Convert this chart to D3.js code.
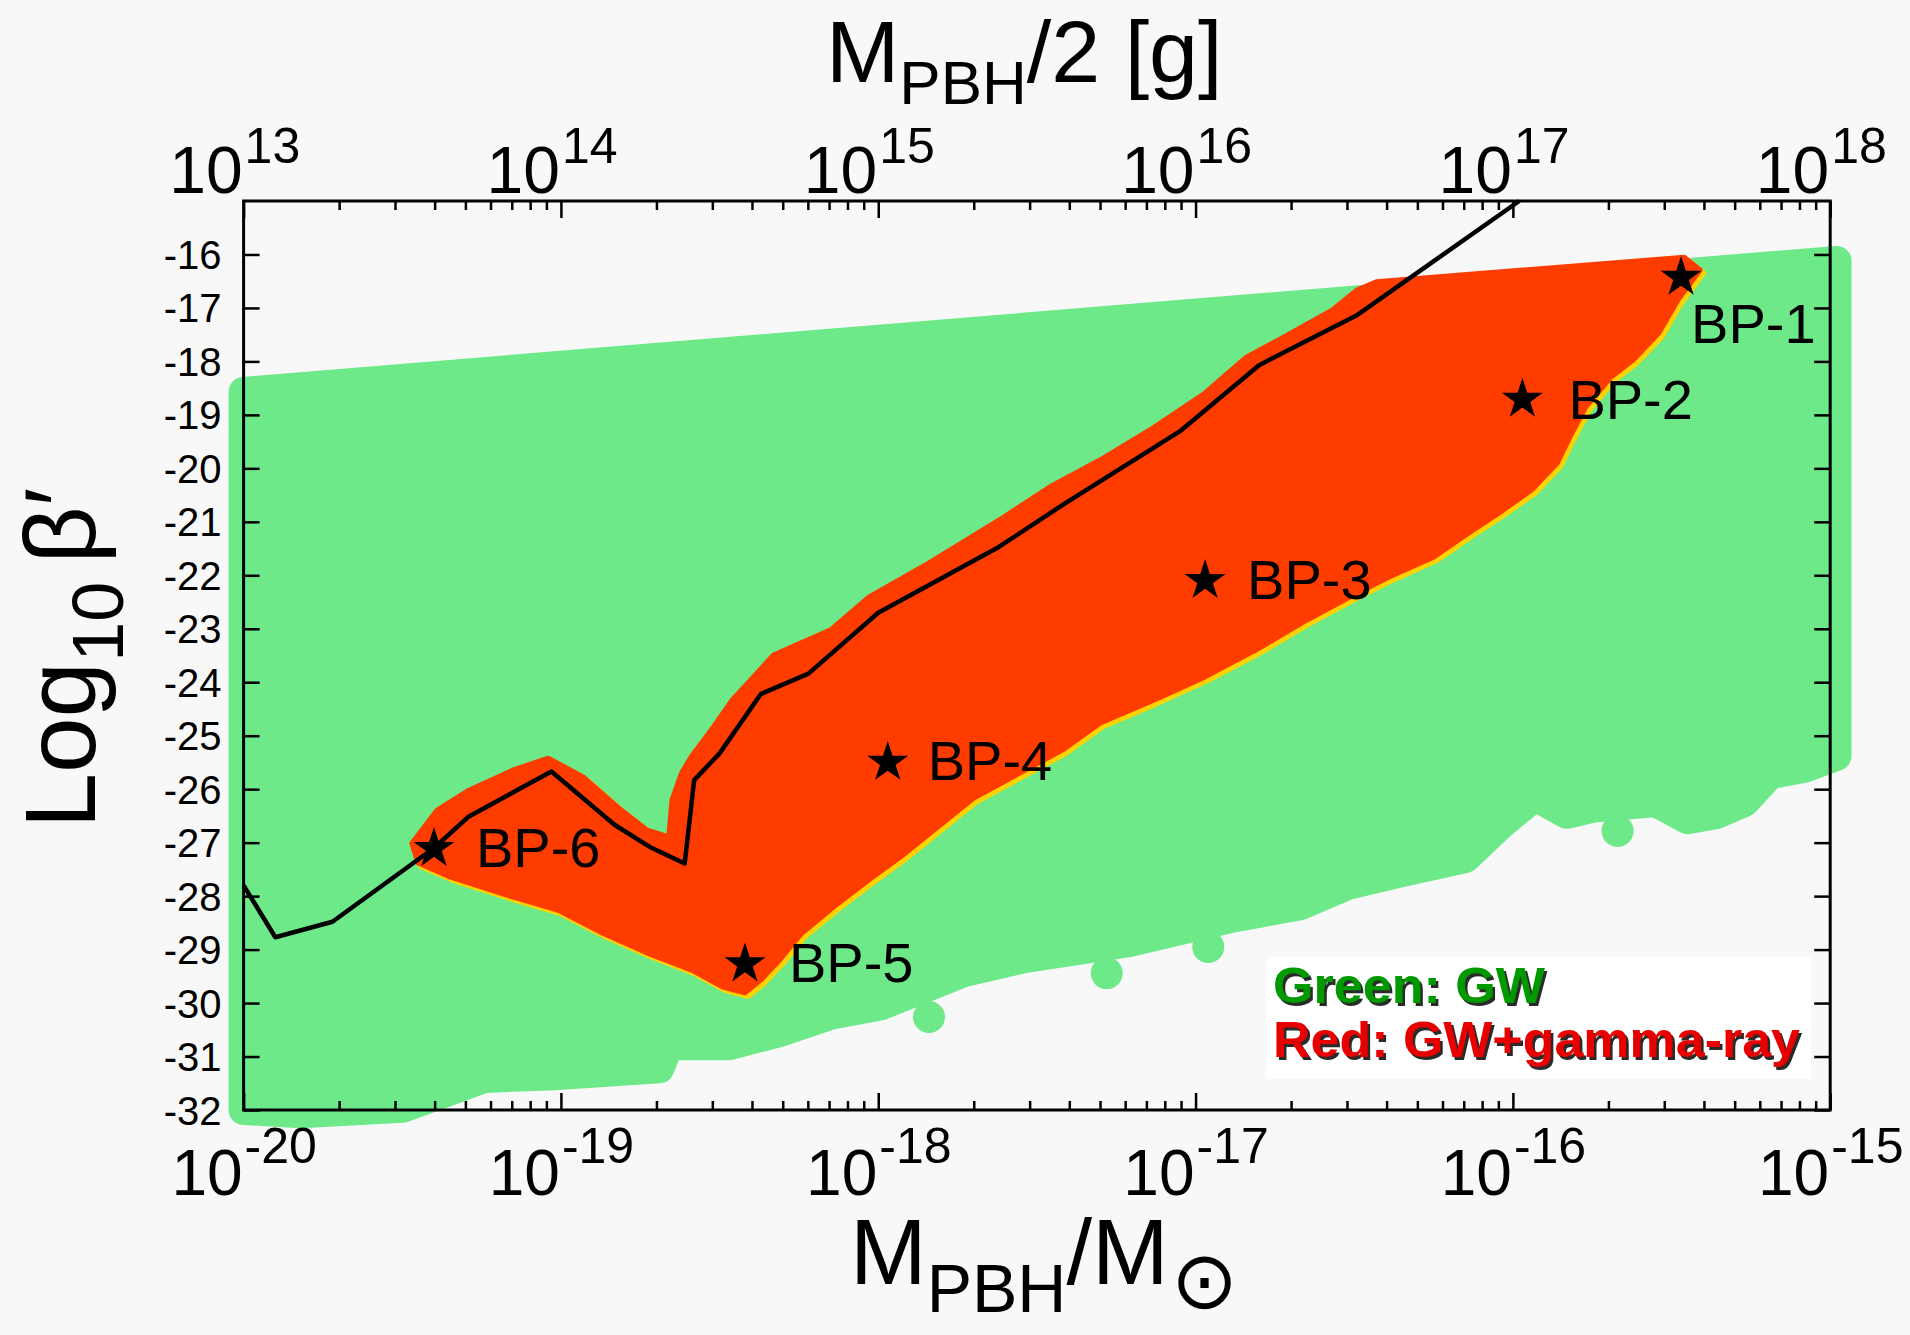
<!DOCTYPE html>
<html>
<head>
<meta charset="utf-8">
<script src="https://cdn.jsdelivr.net/npm/d3@7"></script>
<style>
  body { margin: 0; background: #f8f8f8; }
  svg { display: block; font-family: "Liberation Sans", Arial, Helvetica, sans-serif; }
</style>
</head>
<body>
<div id="chart"></div>
<script>
const width = 1910, height = 1335;
const plot = { left: 243.6, right: 1830.2, top: 201, bottom: 1110 };

// black exclusion curve: log10(M_PBH/M_sun) vs log10 beta'
const lineLogM    = [-20.00, -19.90, -19.72, -19.40, -19.29, -19.03, -18.83, -18.72, -18.61, -18.58, -18.50, -18.37, -18.22, -18.00, -17.62, -17.41, -17.05, -16.80, -16.49, -15.98];
const lineLogBeta = [-27.80, -28.77, -28.48, -27.10, -26.51, -25.67, -26.67, -27.08, -27.39, -25.83, -25.33, -24.22, -23.84, -22.70, -21.47, -20.65, -19.31, -18.07, -17.13, -15.00];

// benchmark points
const bpNames    = ["BP-1", "BP-2", "BP-3", "BP-4", "BP-5", "BP-6"];
const bpLogM     = [-15.47, -15.97, -16.97, -17.97, -18.42, -19.40];
const bpLogBeta  = [-16.43, -18.71, -22.10, -25.50, -29.27, -27.11];

// GW scan (green): outline through the centres of the outer points
const gwLogM    = [-20.00, -14.98, -14.98, -15.08, -15.19, -15.27, -15.36, -15.45, -15.55, -15.75, -15.83, -15.93, -16.04, -16.15, -16.35, -16.52, -16.67, -16.89, -17.21, -17.54, -17.73, -17.99, -18.15, -18.31, -18.47, -18.66, -18.69, -19.02, -19.24, -19.50, -19.82, -20.00];
const gwLogBeta = [-18.57, -16.12, -25.38, -25.60, -25.72, -26.24, -26.47, -26.56, -26.24, -26.35, -26.46, -26.13, -26.67, -27.29, -27.55, -27.79, -28.17, -28.41, -28.86, -29.16, -29.42, -30.04, -30.22, -30.54, -30.79, -30.79, -31.22, -31.35, -31.40, -31.96, -32.06, -32.00];
// stray GW points below the main band
const gwDotLogM    = [-17.84, -17.28, -16.96, -15.67];
const gwDotLogBeta = [-30.26, -29.44, -28.95, -26.78];

// GW + gamma-ray scan (red) outline
const gammaLogM    = [-19.47, -19.39, -19.29, -19.15, -19.04, -18.93, -18.81, -18.73, -18.66, -18.65, -18.62, -18.59, -18.52, -18.46, -18.33, -18.15, -18.03, -17.84, -17.62, -17.46, -17.30, -17.13, -16.97, -16.84, -16.72, -16.57, -16.49, -16.43, -15.46, -15.41, -15.48, -15.54, -15.62, -15.69, -15.77, -15.82, -15.86, -15.94, -16.03, -16.14, -16.25, -16.39, -16.49, -16.65, -16.81, -16.97, -17.13, -17.30, -17.42, -17.70, -17.93, -18.03, -18.14, -18.24, -18.31, -18.37, -18.42, -18.49, -18.59, -18.73, -18.87, -19.01, -19.15, -19.35, -19.45];
const gammaLogBeta = [-27.01, -26.39, -26.02, -25.64, -25.42, -25.77, -26.39, -26.76, -26.89, -26.20, -25.70, -25.40, -24.84, -24.33, -23.49, -23.02, -22.41, -21.77, -20.97, -20.35, -19.84, -19.23, -18.59, -17.92, -17.54, -17.04, -16.66, -16.51, -16.05, -16.29, -16.85, -17.47, -17.97, -18.29, -18.85, -19.41, -19.90, -20.40, -20.78, -21.21, -21.66, -22.03, -22.33, -22.84, -23.40, -23.90, -24.33, -24.76, -25.27, -26.17, -27.27, -27.70, -28.20, -28.69, -29.19, -29.57, -29.81, -29.70, -29.38, -29.06, -28.69, -28.26, -28.02, -27.64, -27.38];

// axis ticks
const yTicks = d3.range(-32, -15);
const bottomExponents = [-20, -19, -18, -17, -16, -15];
const topExponents = [13, 14, 15, 16, 17, 18];

const legendLines = ["Green: GW", "Red: GW+gamma-ray"];

// style bits (not data)
const GREEN = "#6de98a", RED = "#ff3c00", YELLOW = "#ffd200";
const labelShift = [[10, 66], [46, 20], [42, 18], [40, 18], [44, 18], [42, 18]];

const svg = d3.select("#chart").append("svg")
    .attr("width", width)
    .attr("height", height);

svg.append("rect").attr("width", width).attr("height", height).attr("fill", "#f8f8f8");

const x = d3.scaleLog().domain([1e-20, 1e-15]).range([plot.left, plot.right]);
const xTop = d3.scaleLog().domain([1e13, 1e18]).range([plot.left, plot.right]);
const y = d3.scaleLinear().domain([-32, -15]).range([plot.bottom, plot.top]);
const px = m => x(Math.pow(10, m));

const outline = d3.line()
    .x(d => px(d[0]))
    .y(d => y(d[1]))
    .curve(d3.curveLinearClosed);

// green region: fat round stroke mimics the big scatter dots on the edge
svg.append("path")
    .datum(d3.zip(gwLogM, gwLogBeta))
    .attr("d", outline)
    .attr("fill", GREEN)
    .attr("stroke", GREEN)
    .attr("stroke-width", 30)
    .attr("stroke-linejoin", "round");

svg.selectAll(".gwdot")
    .data(d3.zip(gwDotLogM, gwDotLogBeta))
    .join("circle")
    .attr("cx", d => px(d[0]))
    .attr("cy", d => y(d[1]))
    .attr("r", 16)
    .attr("fill", GREEN);

// red region with a thin yellow rim peeking out on the lower side
const gammaPts = d3.zip(gammaLogM, gammaLogBeta);
svg.append("path")
    .datum(gammaPts)
    .attr("d", outline)
    .attr("transform", "translate(3,3)")
    .attr("fill", YELLOW)
    .attr("stroke", YELLOW)
    .attr("stroke-width", 6)
    .attr("stroke-linejoin", "round");

svg.append("path")
    .datum(gammaPts)
    .attr("d", outline)
    .attr("fill", RED)
    .attr("stroke", RED)
    .attr("stroke-width", 5)
    .attr("stroke-linejoin", "round");

// exclusion line
svg.append("path")
    .datum(d3.zip(lineLogM, lineLogBeta))
    .attr("d", d3.line().x(d => px(d[0])).y(d => y(d[1])))
    .attr("fill", "none")
    .attr("stroke", "black")
    .attr("stroke-width", 4.5)
    .attr("stroke-linejoin", "round");

// axes ----------------------------------------------------------
const isDecade = d => Math.abs(Math.log10(d) - Math.round(Math.log10(d))) < 1e-6;

function styleTicks(g) {
    g.select(".domain").remove();
    g.selectAll(".tick line").attr("stroke", "black").attr("stroke-width", 2.5);
}

const xb = x.ticks();
const xt = xTop.ticks();

svg.append("g")
    .attr("transform", `translate(0,${plot.bottom})`)
    .call(d3.axisBottom(x).tickValues(xb.filter(d => !isDecade(d))).tickSize(-9).tickFormat(""))
    .call(styleTicks);
svg.append("g")
    .attr("transform", `translate(0,${plot.bottom})`)
    .call(d3.axisBottom(x).tickValues(xb.filter(isDecade)).tickSize(-17).tickFormat(""))
    .call(styleTicks);

svg.append("g")
    .attr("transform", `translate(0,${plot.top})`)
    .call(d3.axisTop(xTop).tickValues(xt.filter(d => !isDecade(d))).tickSize(-9).tickFormat(""))
    .call(styleTicks);
svg.append("g")
    .attr("transform", `translate(0,${plot.top})`)
    .call(d3.axisTop(xTop).tickValues(xt.filter(isDecade)).tickSize(-17).tickFormat(""))
    .call(styleTicks);

svg.append("g")
    .attr("transform", `translate(${plot.left},0)`)
    .call(d3.axisLeft(y).tickValues(yTicks).tickSize(-16).tickPadding(22).tickFormat(d => String(d)))
    .call(styleTicks)
    .call(g => g.selectAll("text")
        .attr("fill", "black")
        .attr("dy", "0.35em")
        .style("font-size", "40px")
        .style("font-family", "'Liberation Sans', Arial, sans-serif"));

svg.append("g")
    .attr("transform", `translate(${plot.right},0)`)
    .call(d3.axisRight(y).tickValues(yTicks).tickSize(-16).tickFormat(""))
    .call(styleTicks);

// frame
svg.append("rect")
    .attr("x", plot.left).attr("y", plot.top)
    .attr("width", plot.right - plot.left)
    .attr("height", plot.bottom - plot.top)
    .attr("fill", "none")
    .attr("stroke", "black")
    .attr("stroke-width", 3);

// power-of-ten tick labels
function powerLabels(exps, xpos, baseY, supY, baseSize, supSize) {
    const g = svg.append("g");
    g.selectAll(".base").data(exps).join("text")
        .attr("x", d => xpos(d) - 1)
        .attr("y", baseY)
        .attr("text-anchor", "end")
        .style("font-size", baseSize + "px")
        .text("10");
    g.selectAll(".sup").data(exps).join("text")
        .attr("x", d => xpos(d) + 1)
        .attr("y", supY)
        .attr("text-anchor", "start")
        .style("font-size", supSize + "px")
        .text(d => String(d));
}
powerLabels(bottomExponents, d => x(Math.pow(10, d)), 1195, 1163, 64, 50);
powerLabels(topExponents, d => xTop(Math.pow(10, d)), 193, 163, 66, 50);

// axis titles
const topTitle = svg.append("text").attr("x", 826).attr("y", 82).style("font-size", "88px");
topTitle.append("tspan").text("M");
topTitle.append("tspan").attr("dy", 22).style("font-size", "62px").text("PBH");
topTitle.append("tspan").attr("dy", -22).text("/2 [g]");

const bottomTitle = svg.append("text").attr("x", 850).attr("y", 1284).style("font-size", "92px");
bottomTitle.append("tspan").text("M");
bottomTitle.append("tspan").attr("dy", 28).style("font-size", "68px").text("PBH");
bottomTitle.append("tspan").attr("dy", -28).text("/M");
bottomTitle.append("tspan").attr("dy", 24).attr("dx", 2).style("font-size", "80px").text("\u2299");

const yTitle = svg.append("text")
    .attr("transform", "translate(95,658) rotate(-90)")
    .attr("text-anchor", "middle")
    .style("font-size", "100px");
yTitle.append("tspan").text("Log");
yTitle.append("tspan").attr("dy", 28).style("font-size", "72px").text("10");
yTitle.append("tspan").attr("dy", -28).attr("dx", 18).text("\u03b2\u2032");

// benchmark stars and labels
const bps = bpNames.map((name, i) => ({ name, m: bpLogM[i], b: bpLogBeta[i], shift: labelShift[i] }));

svg.selectAll(".star").data(bps).join("path")
    .attr("transform", d => `translate(${px(d.m)},${y(d.b)})`)
    .attr("d", d3.symbol(d3.symbolStar).size(520))
    .attr("fill", "black");

svg.selectAll(".bplabel").data(bps).join("text")
    .attr("x", d => px(d.m) + d.shift[0])
    .attr("y", d => y(d.b) + d.shift[1])
    .style("font-size", "56px")
    .text(d => d.name);

// legend
svg.append("rect")
    .attr("x", 1266).attr("y", 957)
    .attr("width", 545).attr("height", 122)
    .attr("fill", "white");

const legendColors = ["#009a00", "#e80000"];
const legendWidths = [272, 527];
legendLines.forEach((txt, i) => {
    const yy = 1003 + i * 54;
    svg.append("text")
        .attr("x", 1275.5).attr("y", yy + 2.5)
        .attr("textLength", legendWidths[i]).attr("lengthAdjust", "spacingAndGlyphs")
        .style("font-size", "50px").style("font-weight", "bold")
        .attr("fill", "#2a2a2a")
        .text(txt);
    svg.append("text")
        .attr("x", 1273).attr("y", yy)
        .attr("textLength", legendWidths[i]).attr("lengthAdjust", "spacingAndGlyphs")
        .style("font-size", "50px").style("font-weight", "bold")
        .attr("fill", legendColors[i])
        .text(txt);
});
</script>
</body>
</html>
